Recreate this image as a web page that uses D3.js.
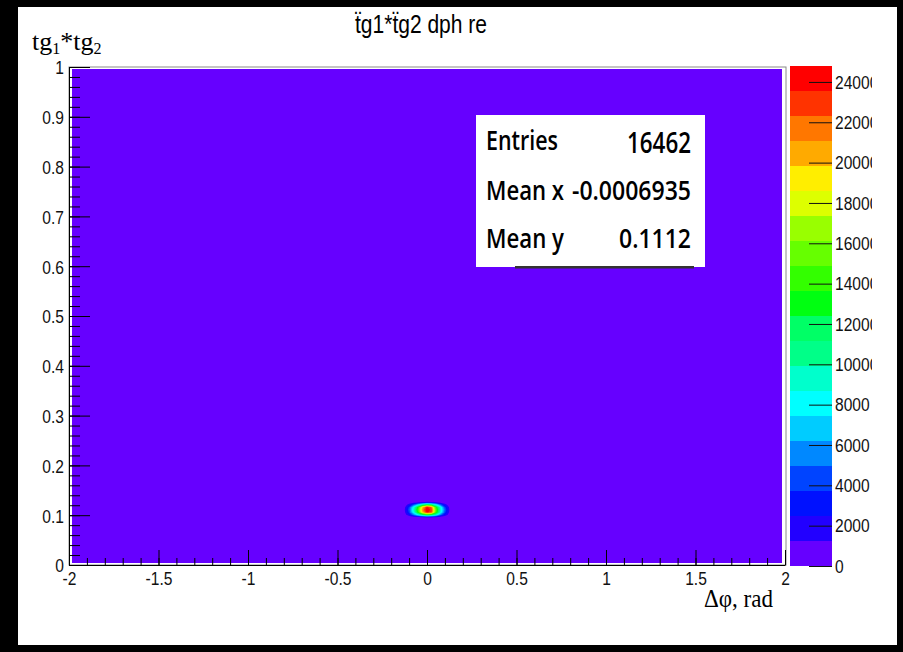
<!DOCTYPE html>
<html>
<head>
<meta charset="utf-8">
<script src="https://cdn.jsdelivr.net/npm/d3@7"></script>
<style>
  body { margin: 0; background: #000; }
  svg { display: block; }
</style>
</head>
<body>
<div id="chart"></div>
<script>
// ---- data ----
const xDomain = [-2, 2];
const yDomain = [0, 1];
const xMajor = [-2, -1.5, -1, -0.5, 0, 0.5, 1, 1.5, 2];
const yMajor = [0, 0.1, 0.2, 0.3, 0.4, 0.5, 0.6, 0.7, 0.8, 0.9, 1];
const zMax = 24790;
const zTicks = [0, 2000, 4000, 6000, 8000, 10000, 12000, 14000, 16000, 18000, 20000, 22000, 24000];
const palette = ["#6600ff", "#2200ff", "#0011ff", "#0044ff", "#0088ff", "#00ccff", "#00ffff",
  "#00ffcc", "#00ff88", "#00ff66", "#00ff11", "#33ff00", "#66ff00", "#99ff00", "#ddff00",
  "#ffee00", "#ffaa00", "#ff7700", "#ff3300", "#ff0000"];

// sample grid around the peak (dphi, tg1*tg2) and counts
const gridX = [-0.15, -0.125, -0.1, -0.075, -0.05, -0.025, 0, 0.025, 0.05, 0.075, 0.1, 0.125, 0.15];
const gridY = [0.091, 0.096, 0.101, 0.106, 0.111, 0.116, 0.121, 0.126, 0.131];
const counts = [
  [0, 0, 0, 0, 0, 0, 0, 0, 0, 0, 0, 0, 0],
  [0, 0, 200, 600, 1000, 1300, 1500, 1400, 1100, 600, 200, 0, 0],
  [0, 500, 2500, 5500, 8500, 11500, 13500, 12500, 9500, 5500, 2500, 500, 0],
  [0, 900, 4000, 8500, 13500, 20000, 24000, 22500, 14500, 9000, 4200, 1000, 0],
  [0, 1100, 4500, 9000, 14500, 21000, 24790, 23000, 15000, 9500, 4800, 1200, 0],
  [0, 900, 4000, 8500, 13500, 20000, 24000, 22000, 14000, 9000, 4200, 1000, 0],
  [0, 400, 2000, 4500, 7500, 10500, 12500, 11500, 8500, 5000, 2000, 400, 0],
  [0, 0, 100, 400, 900, 1300, 1500, 1400, 1000, 500, 100, 0, 0],
  [0, 0, 0, 0, 0, 0, 0, 0, 0, 0, 0, 0, 0]
];
const stats = [
  { label: "Entries", value: "16462" },
  { label: "Mean x", value: "-0.0006935" },
  { label: "Mean y", value: "0.1112" }
];

// ---- layout ----
const W = 903, H = 652;
const plot = { left: 69, right: 786, top: 67, bottom: 565 };
const bar = { left: 790, right: 832, top: 66, bottom: 566 };
const tickFont = "'Liberation Sans', Arial, sans-serif";
const serif = "'Liberation Serif', 'Times New Roman', serif";

const svg = d3.select("#chart").append("svg")
  .attr("width", W)
  .attr("height", H);
const defs = svg.append("defs");

// white canvas on black
svg.append("rect").attr("x", 18).attr("y", 7).attr("width", 879).attr("height", 638).attr("fill", "#fff");

const x = d3.scaleLinear().domain(xDomain).range([plot.left, plot.right - 1]);
const y = d3.scaleLinear().domain(yDomain).range([plot.bottom, plot.top]);
const z = d3.scaleLinear().domain([0, zMax]).range([bar.bottom, bar.top]);

// frame
svg.append("rect")
  .attr("x", plot.left).attr("y", plot.top)
  .attr("width", plot.right - plot.left).attr("height", plot.bottom - plot.top)
  .attr("fill", "#fff").attr("stroke", "#8a8a8a").attr("stroke-width", 1);

defs.append("clipPath").attr("id", "plotclip")
  .append("rect")
  .attr("x", plot.left + 3).attr("y", plot.top + 2)
  .attr("width", plot.right - plot.left - 7).attr("height", plot.bottom - plot.top - 4);

const cells = svg.append("g").attr("clip-path", "url(#plotclip)");
cells.append("rect")
  .attr("x", plot.left + 3).attr("y", plot.top + 2)
  .attr("width", plot.right - plot.left - 7).attr("height", plot.bottom - plot.top - 4)
  .attr("fill", palette[0]);

// contour levels
const step = zMax / palette.length;
const levels = palette.map((c, k) => k * step).slice(1);
const nx = gridX.length, ny = gridY.length;
const dxs = gridX[1] - gridX[0], dys = gridY[1] - gridY[0];
const contours = d3.contours().size([nx, ny]).thresholds(levels)(counts.flat());
const proj = d3.geoTransform({
  point: function (gx, gy) {
    this.stream.point(x(gridX[0] + (gx - 0.5) * dxs), y(gridY[0] + (gy - 0.5) * dys));
  }
});
const path = d3.geoPath(proj);
cells.selectAll(".level")
  .data(contours)
  .join("path")
  .attr("class", "level")
  .attr("d", path)
  .attr("fill", (d, i) => palette[i + 1]);

// axes
const fmt = d => String(d);
const sx = 0.82;
function styleText(g) {
  g.selectAll("text")
    .attr("font-family", tickFont)
    .attr("font-size", 19)
    .attr("fill", "#111")
    .attr("transform", `scale(${sx},1)`);
}

const xAxis = svg.append("g").attr("transform", `translate(0,${plot.bottom})`);
xAxis.append("g")
  .call(d3.axisBottom(x).tickValues(x.ticks(40)).tickSize(-7).tickSizeOuter(0).tickFormat(""))
  .call(g => g.select(".domain").remove());
xAxis.append("g")
  .call(d3.axisBottom(x).tickValues(xMajor).tickSize(-15).tickSizeOuter(0).tickPadding(7).tickFormat(fmt))
  .call(styleText)
  .call(g => g.select(".domain").attr("stroke", "#000"));

const yAxis = svg.append("g").attr("transform", `translate(${plot.left},0)`);
yAxis.append("g")
  .call(d3.axisLeft(y).tickValues(y.ticks(50)).tickSize(-11).tickSizeOuter(0).tickFormat(""))
  .call(g => g.select(".domain").remove());
yAxis.append("g")
  .call(d3.axisLeft(y).tickValues(yMajor).tickSize(-21).tickSizeOuter(0).tickPadding(5).tickFormat(fmt))
  .call(styleText)
  .call(g => g.selectAll(".tick text").attr("x", -5 / sx).attr("dy", "0.36em"))
  .call(g => g.select(".domain").attr("stroke", "#000"));

// colour bar
svg.append("g").selectAll("rect")
  .data(palette)
  .join("rect")
  .attr("x", bar.left)
  .attr("width", bar.right - bar.left)
  .attr("y", (c, k) => z((k + 1) * step))
  .attr("height", (c, k) => z(k * step) - z((k + 1) * step))
  .attr("fill", c => c);

defs.append("clipPath").attr("id", "barclip")
  .append("rect").attr("x", 780).attr("y", 40).attr("width", 92).attr("height", 560);

svg.append("g")
  .attr("clip-path", "url(#barclip)")
  .append("g")
  .attr("transform", `translate(${bar.right},0)`)
  .call(d3.axisRight(z).tickValues(zTicks).tickSize(-23).tickPadding(3).tickFormat(fmt))
  .call(styleText)
  .call(g => g.select(".domain").remove())
  .call(g => g.selectAll(".tick line").attr("stroke", "#111"))
  .call(g => g.selectAll(".tick text").attr("x", 3 / sx));

// stats box
svg.append("rect").attr("x", 476).attr("y", 115).attr("width", 229).attr("height", 152).attr("fill", "#fff");
svg.append("rect").attr("x", 515).attr("y", 266).attr("width", 179).attr("height", 2.5).attr("fill", "#333");
const statsFont = "'Open Sans', 'Noto Sans', sans-serif";
const labelLen = [72, 78, 78];
const valueLen = [64, 119, 72];
const rowBase = [150, 200, 248];
const st = svg.append("g").attr("font-family", statsFont).attr("font-weight", 600).attr("fill", "#000");
st.selectAll(".slabel")
  .data(stats)
  .join("text")
  .attr("class", "slabel")
  .attr("x", 486)
  .attr("y", (d, i) => rowBase[i])
  .attr("font-size", 27)
  .attr("textLength", (d, i) => labelLen[i])
  .attr("lengthAdjust", "spacingAndGlyphs")
  .text(d => d.label);
st.selectAll(".svalue")
  .data(stats)
  .join("text")
  .attr("class", "svalue")
  .attr("x", (d, i) => 691 - valueLen[i])
  .attr("y", (d, i) => rowBase[i] + (i === 0 ? 3 : 0))
  .attr("font-size", (d, i) => i === 0 ? 29 : 27)
  .attr("textLength", (d, i) => valueLen[i])
  .attr("lengthAdjust", "spacingAndGlyphs")
  .text(d => d.value);

// titles
svg.append("text")
  .attr("x", 355).attr("y", 33)
  .attr("font-family", tickFont).attr("font-size", 25)
  .attr("textLength", 132).attr("lengthAdjust", "spacingAndGlyphs")
  .text("t\u0308g1*t\u0308g2 dph re");

const yt = svg.append("text")
  .attr("x", 32).attr("y", 50)
  .attr("font-family", serif).attr("font-size", 26);
yt.append("tspan").text("tg");
yt.append("tspan").attr("font-size", 16).attr("dy", 4).text("1");
yt.append("tspan").attr("dy", -4).text("*tg");
yt.append("tspan").attr("font-size", 16).attr("dy", 4).text("2");

svg.append("text")
  .attr("x", 704).attr("y", 607)
  .attr("font-family", serif).attr("font-size", 26)
  .attr("textLength", 69).attr("lengthAdjust", "spacingAndGlyphs")
  .text("\u0394\u03c6, rad");
</script>
</body>
</html>
